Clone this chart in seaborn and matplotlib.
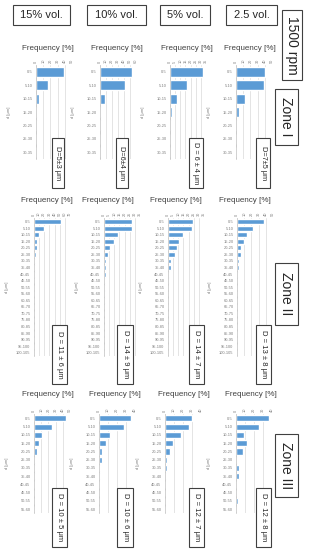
import numpy as np
import matplotlib
matplotlib.use("Agg")
import matplotlib.pyplot as plt
import seaborn as sns
from matplotlib.patches import Rectangle

W, H = 313, 550
BLUE = "#5B9BD5"
GREY = "#7F7F7F"

# size classes (d in um)
cats_z1 = ["0-5", "5-10", "10-15", "15-20", "20-25", "25-30", "30-35"]
cats_z2 = ["0-5", "5-10", "10-15", "15-20", "20-25", "25-30", "30-35", "35-40",
           "40-45", "45-50", "50-55", "55-60", "60-65", "65-70", "70-75", "75-80",
           "80-85", "85-90", "90-95", "95-100", "100-105"]
cats_z3 = ["0-5", "5-10", "10-15", "15-20", "20-25", "25-30", "30-35", "35-40",
           "40-45", "45-50", "50-55", "55-60"]

vol_labels = ["15% vol.", "10% vol.", "5% vol.", "2.5 vol."]
zone_labels = ["Zone I", "Zone II", "Zone III"]

# frequency [%] per concentration, zone I
z1_15 = [39, 16, 4, 1.5, 1.2, 0, 0]
z1_10 = [53, 42, 8, 2, 1, 0, 0]
z1_5 = [32, 16.5, 7, 2, 1, 0, 0]
z1_25 = [40, 38.5, 13, 3.7, 1.8, 0, 0]

# zone II
z2_15 = [52.5, 19, 10, 6, 5, 4.5, 2.5, 2, 1.3, 0, 0, 0, 0, 0, 0, 0, 0, 0, 0, 0, 0]
z2_10 = [27, 27, 14, 9.5, 6, 4, 2.2, 2, 1.6, 1, 0.7, 0.5, 0.5, 0, 0, 0, 0, 0, 0, 0, 0]
z2_5 = [24, 23, 14.5, 10.5, 8.7, 6.5, 2.6, 2.6, 1.3, 0.7, 0, 0, 0, 0, 0, 0, 0, 0, 0, 0, 0]
z2_25 = [37, 22, 14, 9.7, 5.5, 5, 3.2, 2.8, 1, 0, 0, 0, 0, 0, 0, 0, 0, 0, 0, 0, 0]

# zone III
z3_15 = [44, 25, 11, 7, 3.7, 1.8, 1, 0.7, 0.4, 0.4, 0.4, 0.4]
z3_10 = [36, 28, 12, 8, 3.7, 3.3, 1.1, 0.8, 0.3, 0, 0, 0]
z3_5 = [29.6, 27, 17.4, 9.2, 5.5, 2.2, 2.2, 1.1, 0, 0, 0, 0]
z3_25 = [36.6, 25.2, 8.9, 12.2, 7.8, 0.6, 3, 3, 0.3, 0.3, 1.9, 0]

d_z1 = ["D=5±3 μm", "D=6±4 μm", "D = 6 ± 4 μm", "D=7±5 μm"]
d_z2 = ["D = 11 ± 6 μm", "D = 14 ± 9 μm", "D = 14 ± 7 μm", "D = 13 ± 8 μm"]
d_z3 = ["D = 10 ± 5 μm", "D = 10 ± 6 μm", "D = 12 ± 7 μm", "D = 12 ± 8 μm"]

# axis maxima / steps for the top frequency axis
xmax_z1, step_z1 = [50, 60, 35, 50], [10, 10, 5, 10]
xmax_z2, step_z2 = [70, 35, 35, 50], [10, 5, 5, 10]
xmax_z3, step_z3 = [50, 40, 40, 40], [10, 10, 10, 10]

sns.set_style("white")
plt.rcParams["font.family"] = ["Liberation Sans", "DejaVu Sans"]

fig = plt.figure(figsize=(W / 100, H / 100), dpi=100)


def panel(x0, top, bottom, cats, vals, xmax, step, title_x, title_y):
    ax = fig.add_axes([x0 / W, 1 - bottom / H, 36 / W, (bottom - top) / H])
    sns.barplot(x=vals, y=cats, ax=ax, color=BLUE, width=0.75, orient="h",
                saturation=1)
    ax.set_xlim(0, xmax)
    ax.set_ylim(len(cats) - 0.5, -0.5)
    ax.set_xticks(np.arange(0, xmax + step / 2, step))
    ax.xaxis.tick_top()
    ax.tick_params(axis="x", labelsize=2.8, rotation=90, length=0, pad=1.5,
                   labelcolor=GREY)
    ax.tick_params(axis="y", labelsize=2.9, length=0, pad=2.5, labelcolor=GREY)
    ax.grid(axis="x", color="#D9D9D9", lw=0.5)
    ax.set_axisbelow(True)
    for s in ["top", "right", "bottom"]:
        ax.spines[s].set_visible(False)
    ax.spines["left"].set_color("#BFBFBF")
    ax.spines["left"].set_linewidth(0.5)
    ax.set_xlabel("")
    ax.set_ylabel("")
    fig.text(title_x / W, 1 - title_y / H, "Frequency [%]", fontsize=5.8,
             ha="center", va="center", color="#404040")
    fig.text((x0 - 27) / W, 1 - (top + bottom) / 2 / H, "d [μm]", fontsize=3,
             rotation=90, ha="center", va="center", color=GREY)
    return ax


rows = [
    (cats_z1, [z1_15, z1_10, z1_5, z1_25], xmax_z1, step_z1, [36, 100, 170, 236],
     65.3, 158.7, [48, 117, 187, 250], 48),
    (cats_z2, [z2_15, z2_10, z2_5, z2_25], xmax_z2, step_z2, [34, 104, 168, 237],
     218.4, 356, [47, 108, 176, 245], 200),
    (cats_z3, [z3_15, z3_10, z3_5, z3_25], xmax_z3, step_z3, [34, 99, 165, 236],
     414.2, 513.4, [48, 115, 184, 251], 395),
]
for cats, series, xm, st, xs, top, bot, tx, ty in rows:
    for i in range(4):
        panel(xs[i], top, bot, cats, series[i], xm[i], st[i], tx[i], ty)

# overlay for boxed labels, in pixel coordinates
ov = fig.add_axes([0, 0, 1, 1], zorder=10)
ov.set_xlim(0, W)
ov.set_ylim(H, 0)
ov.axis("off")


def box(x0, y0, x1, y1, text, size, rot=0):
    ov.add_patch(Rectangle((x0, y0), x1 - x0, y1 - y0, fc="white",
                           ec="#404040", lw=0.8))
    ov.text((x0 + x1) / 2, (y0 + y1) / 2, text, fontsize=size, rotation=rot,
            ha="center", va="center", color="#262626")


for lab, (a, b) in zip(vol_labels, [(13, 70), (87, 146), (160, 210), (226, 277)]):
    box(a, 5, b, 25, lab, 8)
box(282, 10, 302, 80, "1500 rpm", 10, -90)

for lab, (a, b) in zip(zone_labels, [(89, 145), (263, 325), (434, 497)]):
    box(275, a, 298, b, lab, 10, -90)

d_x = [(52, 64), (116, 128), (189, 203), (256, 270)]
for (a, b), lab in zip(d_x, d_z1):
    box(a, 138, b, 188, lab, 5.3, -90)
d_x2 = [(52, 67), (117, 133), (189, 204), (256, 271)]
for (a, b), lab in zip(d_x2, d_z2):
    box(a, 325, b, 384, lab, 5.5, -90)
for (a, b), lab in zip(d_x2, d_z3):
    box(a, 488, b, 547, lab, 5.5, -90)

fig.savefig("out.png", dpi=100)
